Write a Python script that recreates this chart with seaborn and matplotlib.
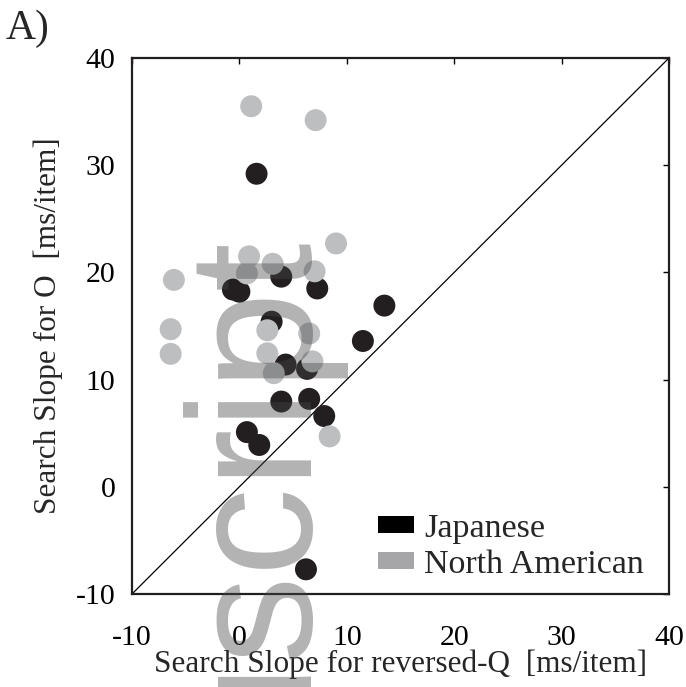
import matplotlib
matplotlib.use("Agg")
import matplotlib.pyplot as plt
from matplotlib.patches import Patch
import numpy as np
import pandas as pd
import seaborn as sns

# Search slopes [ms/item]: x = reversed-Q target, y = O target
jp_x = [1.6, -0.6, 0.0, 3.9, 7.25, 3.0, 4.3, 6.3, 3.9, 6.5, 7.9, 0.7, 1.85, 11.5, 13.5, 6.2]
jp_y = [29.2, 18.4, 18.2, 19.6, 18.5, 15.4, 11.4, 11.0, 7.95, 8.2, 6.6, 5.1, 3.9, 13.6, 16.9, -7.7]
na_x = [1.1, 7.1, 9.0, 0.9, 3.1, 0.7, 7.0, -6.1, -6.4, -6.4, 2.6, 6.5, 2.6, 6.8, 3.2, 8.4]
na_y = [35.5, 34.2, 22.7, 21.5, 20.8, 19.9, 20.1, 19.3, 14.7, 12.4, 14.6, 14.3, 12.45, 11.7, 10.6, 4.7]
groups = ["Japanese", "North American"]
ticks = [-10, 0, 10, 20, 30, 40]

df = pd.DataFrame({
    "rq": jp_x + na_x,
    "o": jp_y + na_y,
    "group": [groups[0]] * len(jp_x) + [groups[1]] * len(na_x),
})

sns.set_style("white")
plt.rcParams["font.family"] = ["Liberation Serif", "DejaVu Serif"]

dot_colors = {"Japanese": "#231f20", "North American": "#bcbec0"}
key_colors = {"Japanese": "#000000", "North American": "#a6a6a9"}

fig = plt.figure(figsize=(6.86, 6.87), dpi=100)
ax = fig.add_axes([0.1924, 0.1354, 0.7828, 0.7802])

sns.scatterplot(data=df, x="rq", y="o", hue="group", hue_order=groups,
                palette=dot_colors, s=250, linewidth=0, alpha=1.0,
                legend=False, ax=ax, zorder=3)

# identity line
ax.plot([ticks[0], ticks[-1]], [ticks[0], ticks[-1]], color="black", lw=0.9, zorder=2)

ax.set_xlim(ticks[0], ticks[-1])
ax.set_ylim(ticks[0], ticks[-1])
ax.set_xticks(ticks)
ax.set_yticks(ticks)
ax.set_xticklabels([str(t) for t in ticks])
ax.set_yticklabels([str(t) for t in ticks])
ax.tick_params(direction="in", length=4, width=1, top=True, right=True,
               labelsize=21.5, colors="black")
ax.tick_params(axis="x", pad=22)
ax.tick_params(axis="y", pad=12)
for sp in ax.spines.values():
    sp.set_linewidth(1.6)
    sp.set_color("#231f20")

ax.set_xlabel("Search Slope for reversed-Q  [ms/item]", fontsize=22.5, labelpad=-1)
ax.set_ylabel("Search Slope for O  [ms/item]", fontsize=22.5, labelpad=9)

handles = [Patch(facecolor=key_colors[g], edgecolor="none") for g in groups]
ax.legend(handles, groups, loc="upper left",
          bbox_to_anchor=(378 / 686, 1 - 513 / 687), bbox_transform=fig.transFigure,
          frameon=False, fontsize=24.5, handlelength=1.05, handleheight=0.4,
          handletextpad=0.3, labelspacing=0.17, borderpad=0, borderaxespad=0)

fig.text(6 / 686, 1 - 39 / 687, "A)", fontsize=30, ha="left", va="baseline")

# repository watermark
fig.text(298 / 686, 1 - 227 / 687, "Manuscript", rotation=90, rotation_mode="anchor",
         ha="right", va="baseline", fontsize=127, family="Liberation Sans",
         color="#464646", alpha=0.41, zorder=10)

fig.savefig("out.png", dpi=100)
